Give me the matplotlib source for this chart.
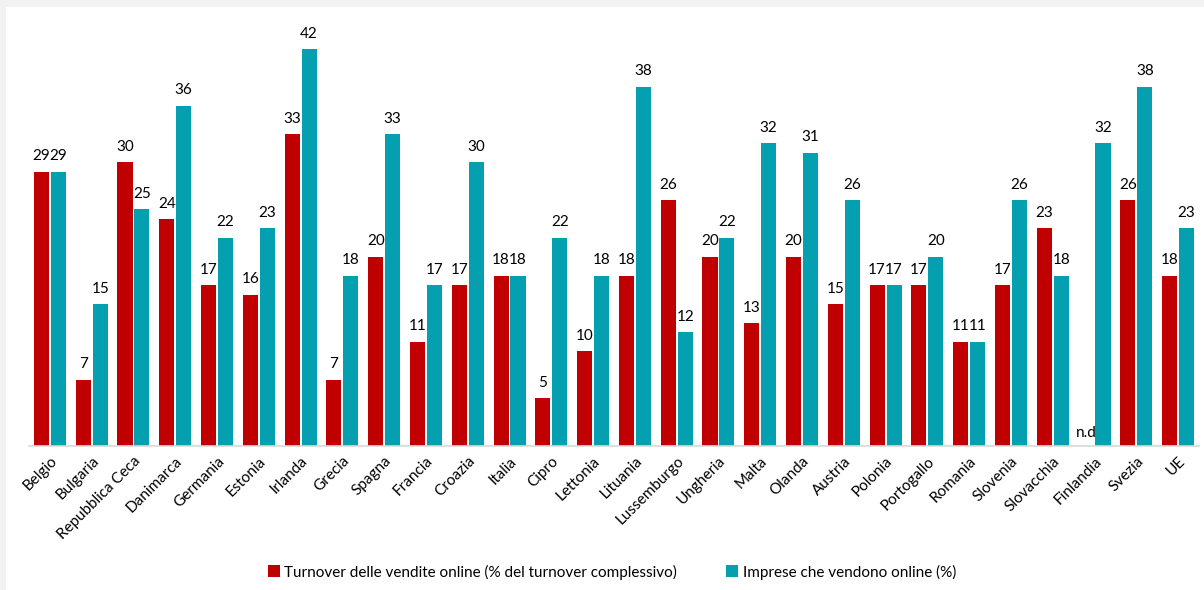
import numpy as np
import matplotlib.pyplot as plt
from matplotlib.patches import Rectangle

paesi = ['Belgio', 'Bulgaria', 'Repubblica Ceca', 'Danimarca', 'Germania', 'Estonia',
         'Irlanda', 'Grecia', 'Spagna', 'Francia', 'Croazia', 'Italia', 'Cipro',
         'Lettonia', 'Lituania', 'Lussemburgo', 'Ungheria', 'Malta', 'Olanda',
         'Austria', 'Polonia', 'Portogallo', 'Romania', 'Slovenia', 'Slovacchia',
         'Finlandia', 'Svezia', 'UE']
# turnover online (% del turnover complessivo), None = dato non disponibile
turnover = [29, 7, 30, 24, 17, 16, 33, 7, 20, 11, 17, 18, 5, 10, 18, 26, 20, 13,
            20, 15, 17, 17, 11, 17, 23, None, 26, 18]
# imprese che vendono online (%)
imprese = [29, 15, 25, 36, 22, 23, 42, 18, 33, 17, 30, 18, 22, 18, 38, 12, 22, 32,
           31, 26, 17, 20, 11, 26, 18, 32, 38, 23]

rosso = '#C00000'
ciano = '#05A0AF'
fs = 11

plt.rcParams['font.family'] = ['Lato', 'DejaVu Sans']

fig = plt.figure(figsize=(12.04, 5.9), dpi=100, facecolor='#f2f2f2')
# pannello bianco dietro al grafico
fig.patches.append(Rectangle((6 / 1204, 0), 1, (590 - 7) / 590, transform=fig.transFigure,
                             facecolor='white', edgecolor='none', zorder=-10))

ax = fig.add_axes([29 / 1204, (590 - 445.7) / 590, 1170 / 1204, (445.7 - 20.5) / 590])
ax.set_facecolor('none')

x = np.arange(len(paesi))
w = 0.36
off = 0.203

t_vals = [v if v is not None else 0 for v in turnover]
ax.bar(x - off, t_vals, w, color=rosso, label='Turnover delle vendite online (% del turnover complessivo)')
ax.bar(x + off, imprese, w, color=ciano, label='Imprese che vendono online (%)')

for i in range(len(paesi)):
    if turnover[i] is None:
        ax.annotate('n.d', (x[i] - off, 0), xytext=(0, 4), textcoords='offset points',
                    ha='center', va='bottom', fontsize=fs)
    else:
        ax.annotate(str(turnover[i]), (x[i] - off, turnover[i]), xytext=(0, 6),
                    textcoords='offset points', ha='center', va='bottom', fontsize=fs)
    ax.annotate(str(imprese[i]), (x[i] + off, imprese[i]), xytext=(0, 6),
                textcoords='offset points', ha='center', va='bottom', fontsize=fs)

ax.set_xlim(-0.5, len(paesi) - 0.5)
ax.set_ylim(0, 45)
ax.set_yticks([])
ax.set_xticks(x)
ax.set_xticklabels(paesi, rotation=45, ha='right', rotation_mode='anchor', fontsize=fs)
ax.tick_params(axis='x', length=0, pad=6)
for s in ['top', 'right', 'left']:
    ax.spines[s].set_visible(False)
ax.spines['bottom'].set_color('#d9d9d9')
ax.spines['bottom'].set_linewidth(1.2)

fig.legend(loc='center', bbox_to_anchor=(612 / 1204, (590 - 572) / 590), ncol=2,
           frameon=False, fontsize=fs, handlelength=0.8, handleheight=0.8,
           handletextpad=0.3, columnspacing=3.2)

fig.savefig('out.png', dpi=100, facecolor=fig.get_facecolor())
